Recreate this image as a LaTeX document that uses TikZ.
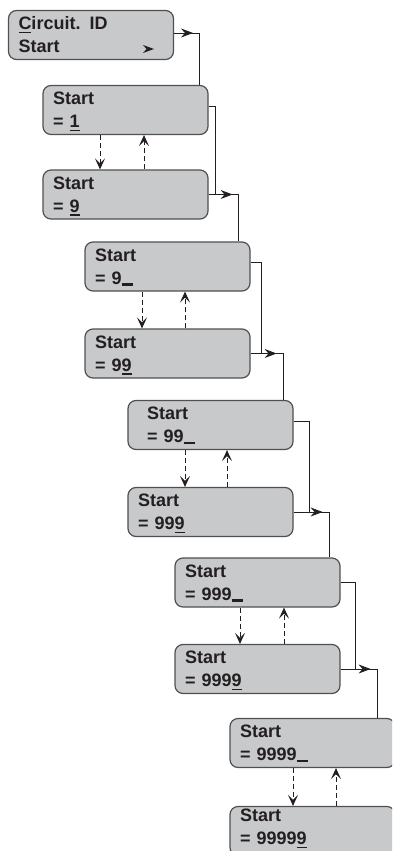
\documentclass[tikz,border=0pt]{standalone}
\usepackage{fontspec}
\setmainfont{Liberation Sans}
\usetikzlibrary{arrows.meta}

\definecolor{boxfill}{RGB}{200,201,203}
\definecolor{boxline}{RGB}{80,80,82}
\definecolor{ink}{RGB}{35,31,32}

% underlined digit and entry cursor
\newcommand\keyd[1]{\setbox0\hbox{#1}\rlap{\rule[-3.5pt]{\wd0}{1.6pt}}\box0}
\newcommand\cursr{\rule[-1.5pt]{11pt}{2.6pt}}

\tikzset{
    disp/.style={draw=boxline, fill=boxfill, line width=1.2pt, rounded corners=8pt,
        minimum width=165pt, minimum height=49pt, text width=145pt, inner xsep=10pt,
        inner ysep=0pt, align=left, text height=12.9pt, text depth=23pt, text=ink,
        font=\fontsize{18}{23}\selectfont\bfseries},
    link/.style={draw=ink, line width=0.9pt},
    press/.style={draw=ink, line width=1pt, dash pattern=on 5pt off 3pt,
        >={Stealth[length=11pt,width=10pt,inset=5pt]}}
}

\begin{document}
\begin{tikzpicture}[x=1pt, y=-1pt, >={Stealth[length=12pt,width=9pt,inset=4pt]}]
    \useasboundingbox (0,0) rectangle (392,851);
    \clip (0,0) rectangle (392,851);

    % displays
    \node[disp] (b0) at (91,35) {\keyd{C}ircuit. ID\\Start};
    \node[disp] (b1) at (125.5,110) {Start\\= \keyd{1}};
    \node[disp] (b2) at (125.5,194.5) {Start\\= \keyd{9}};
    \node[disp] (b3) at (167.5,266.5) {Start\\= 9\cursr};
    \node[disp] (b4) at (167.5,353.5) {Start\\= 9\keyd{9}};
    \node[disp] (b5) at (210.5,425) {\hspace*{9pt}Start\\\hspace*{9pt}= 99\cursr};
    \node[disp] (b6) at (210.5,512) {Start\\= 99\keyd{9}};
    \node[disp] (b7) at (257.5,582.5) {Start\\= 999\cursr};
    \node[disp] (b8) at (257.5,669) {Start\\= 999\keyd{9}};
    \node[disp] (b9) at (312.5,743) {Start\\= 9999\cursr};
    \node[disp, text depth=31pt] (b10) at (312.5,831) {Start\\= 9999\keyd{9}};

    \fill[ink] (143,45) -- (154,49) -- (143,53) -- (146.5,49) -- cycle;

    % ok path down the right side
    \coordinate (c0) at (199,33);
    \draw[link] (b0.east |- c0) -- (c0) -- (c0 |- b1.north);
    \draw[link,->] (b0.east |- c0) -- ([xshift=-6pt]c0);

    \coordinate (r1) at ([xshift=7pt,yshift=4pt]b1.east);
    \draw[link] ([yshift=4pt]b1.east) -- (r1) -- (r1 |- b2.east);
    \coordinate (c2) at ([xshift=30pt]b2.east);
    \draw[link] (b2.east) -- (c2) -- (c2 |- b3.north);
    \draw[link,->] (b2.east) -- ([xshift=-6pt]c2);

    \coordinate (r3) at ([xshift=11pt,yshift=4pt]b3.east);
    \draw[link] ([yshift=4pt]b3.east) -- (r3) -- (r3 |- b4.east);
    \coordinate (c4) at ([xshift=33pt]b4.east);
    \draw[link] (b4.east) -- (c4) -- (c4 |- b5.north);
    \draw[link,->] (b4.east) -- ([xshift=-7pt]c4);

    \coordinate (r5) at ([xshift=16pt,yshift=4pt]b5.east);
    \draw[link] ([yshift=4pt]b5.east) -- (r5) -- (r5 |- b6.east);
    \coordinate (c6) at ([xshift=36pt]b6.east);
    \draw[link] (b6.east) -- (c6) -- (c6 |- b7.north);
    \draw[link,->] (b6.east) -- ([xshift=-7pt]c6);

    \coordinate (r7) at ([xshift=15pt]b7.east);
    \draw[link] (b7.east) -- (r7) -- (r7 |- b8.east);
    \coordinate (c8) at ([xshift=37pt]b8.east);
    \draw[link] (b8.east) -- (c8) -- (c8 |- b9.north);
    \draw[link,->] (b8.east) -- ([xshift=-7pt]c8);

    % up / down keys
    \draw[press,->] ([xshift=-25.5pt]b1.south) -- ([xshift=-25.5pt]b2.north);
    \draw[press,->] ([xshift=18.5pt]b2.north) -- ([xshift=18.5pt]b1.south);
    \draw[press,->] ([xshift=-25.5pt]b3.south) -- ([xshift=-25.5pt]b4.north);
    \draw[press,->] ([xshift=17.5pt]b4.north) -- ([xshift=17.5pt]b3.south);
    \draw[press,->] ([xshift=-25.5pt]b5.south) -- ([xshift=-25.5pt]b6.north);
    \draw[press,->] ([xshift=16.5pt]b6.north) -- ([xshift=16.5pt]b5.south);
    \draw[press,->] ([xshift=-17.5pt]b7.south) -- ([xshift=-17.5pt]b8.north);
    \draw[press,->] ([xshift=26.5pt]b8.north) -- ([xshift=26.5pt]b7.south);
    \draw[press,->] ([xshift=-19.5pt]b9.south) -- ([xshift=-19.5pt]b10.north);
    \draw[press,->] ([xshift=23.5pt]b10.north) -- ([xshift=23.5pt]b9.south);
\end{tikzpicture}
\end{document}
